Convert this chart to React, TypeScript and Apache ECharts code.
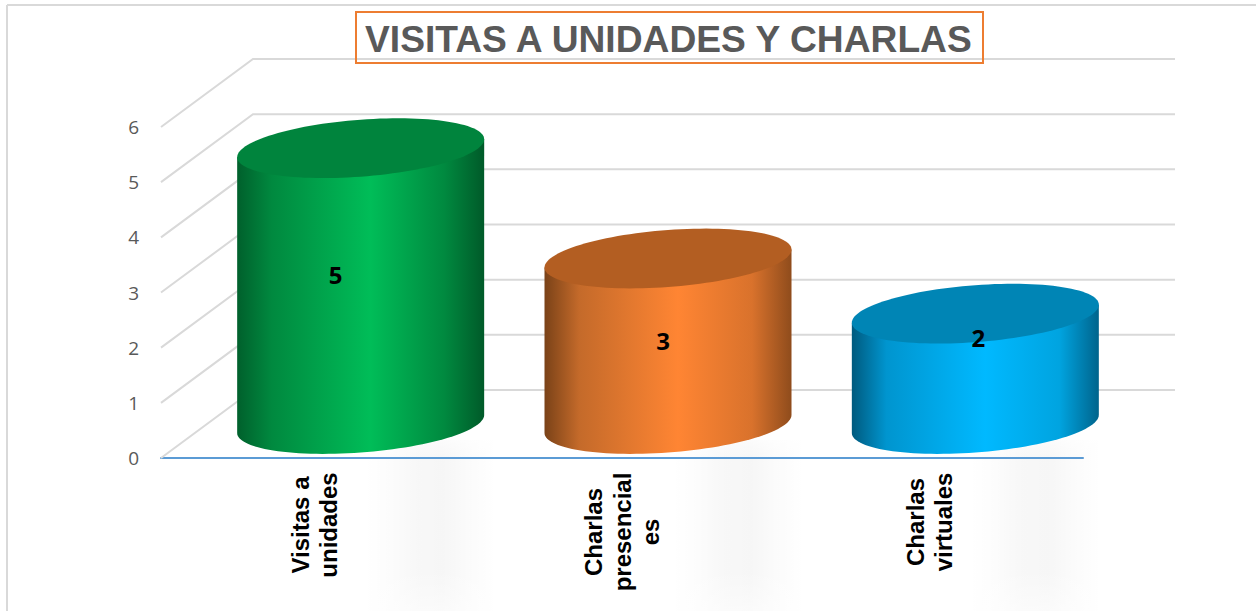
import React, { useEffect, useRef } from "react";
import * as echarts from "echarts";

const categories = ["Visitas a\nunidades", "Charlas\npresencial\nes", "Charlas\nvirtuales"];
const values = [5, 3, 2];
const yTicks = [0, 1, 2, 3, 4, 5, 6];
const titleText = "VISITAS A UNIDADES Y CHARLAS";

const bodyStops = [
  ["#00602c", "#00893f", "#00bd58", "#00893f", "#005a29"],
  ["#7a4218", "#c46a2a", "#ff8533", "#d9722c", "#8f4c1c"],
  ["#005a7e", "#0095cf", "#00b9ff", "#00a4e0", "#00648c"],
];
const topColors = ["#00843d", "#b35e22", "#0085b5"];
const labelNudge = [-25, -5, 3];
const labelY = [274, 340, 337];
const categoryPadding = [[0, 0, 0, 0], [0, 14, 0, 0], [0, 0, 0, 6]];

const DEPTH_X = 92;
const DEPTH_Y = -68;
const RX = 123.5;
const RY = 28.5;
const SKEW = 9;

function ellipsePoints(cx: number, cy: number, from: number, to: number, n = 60) {
  const pts: number[][] = [];
  for (let i = 0; i <= n; i++) {
    const t = from + ((to - from) * i) / n;
    pts.push([cx + RX * Math.cos(t), cy + RY * Math.sin(t) - SKEW * Math.cos(t)]);
  }
  return pts;
}

export default function App() {
  const ref = useRef<HTMLDivElement>(null);
  useEffect(() => {
    const chart = echarts.init(ref.current!, undefined, { renderer: "svg" });
    const band = (x: number) => ({
      type: "rect",
      z: -2,
      silent: true,
      shape: { x: x - 66, y: 440, width: 132, height: 171 },
      style: {
        fill: {
          type: "linear", x: 0, y: 0, x2: 1, y2: 0,
          colorStops: [
            { offset: 0, color: "rgba(0,0,0,0)" },
            { offset: 0.2, color: "rgba(0,0,0,0.012)" },
            { offset: 0.4, color: "rgba(0,0,0,0.03)" },
            { offset: 0.6, color: "rgba(0,0,0,0.035)" },
            { offset: 0.8, color: "rgba(0,0,0,0.015)" },
            { offset: 1, color: "rgba(0,0,0,0)" },
          ],
        },
      },
    });
    const fade = (y: number, h: number, fromOpaqueAtTop: boolean) => ({
      type: "rect",
      z: -1,
      silent: true,
      shape: { x: 300, y, width: 900, height: h },
      style: {
        fill: {
          type: "linear", x: 0, y: 0, x2: 0, y2: 1,
          colorStops: [
            { offset: 0, color: fromOpaqueAtTop ? "rgba(255,255,255,0.6)" : "rgba(255,255,255,0)" },
            { offset: 1, color: fromOpaqueAtTop ? "rgba(255,255,255,0)" : "rgba(255,255,255,0.5)" },
          ],
        },
      },
    });
    chart.setOption({
      animation: false,
      backgroundColor: "#ffffff",
      title: {
        text: titleText,
        left: 356,
        top: 12,
        padding: [8, 7, 6, 9],
        borderColor: "#ed7d31",
        borderWidth: 2,
        textStyle: {
          fontFamily: "Liberation Sans",
          fontWeight: "bold",
          fontSize: 37.2,
          lineHeight: 37,
          color: "#595959",
        },
        z: 10,
      },
      graphic: [
        band(430),
        band(738),
        band(1035),
        fade(440, 20, true),
        fade(570, 41, false),
        { type: "line", z: 0, shape: { x1: 7, y1: 5, x2: 1256, y2: 5 }, style: { stroke: "#d9d9d9", lineWidth: 2 } },
        { type: "line", z: 0, shape: { x1: 7, y1: 5, x2: 7, y2: 611 }, style: { stroke: "#d9d9d9", lineWidth: 2 } },
      ],
      grid: { left: 161, width: 922, top: 127, height: 331, containLabel: false, outerBoundsMode: "none" },
      xAxis: {
        type: "category",
        data: categories.map((c, i) => ({
          value: c,
          textStyle: { padding: categoryPadding[i], align: "center", verticalAlign: "middle" },
        })),
        axisLine: { lineStyle: { color: "#5b9bd5", width: 2 } },
        axisTick: { show: false },
        axisLabel: {
          interval: 0,
          rotate: 90,
          margin: 67,
          align: "center",
          verticalAlign: "middle",
          color: "#000000",
          fontFamily: "Liberation Sans",
          fontWeight: "bold",
          fontSize: 24,
          lineHeight: 28.5,
        },
      },
      yAxis: {
        type: "value",
        min: 0,
        max: 6,
        interval: 1,
        axisLine: { show: false },
        axisTick: { show: false },
        splitLine: { show: false },
        axisLabel: {
          margin: 22,
          color: "#595959",
          fontFamily: "Open Sans",
          fontSize: 19,
          formatter: (v: number) => String(v),
        },
      },
      series: [
        {
          type: "custom",
          z: 1,
          silent: true,
          data: yTicks.map((v) => [0, v]),
          encode: { x: 0, y: 1 },
          renderItem: (_p: any, api: any) => {
            const c = api.coord([0, api.value(1)]);
            const band = api.size([1, 0])[0];
            const x0 = c[0] - band / 2;
            const bx = x0 + DEPTH_X;
            const by = c[1] + DEPTH_Y;
            return {
              type: "polyline",
              shape: { points: [[x0, c[1]], [bx, by], [x0 + band * categories.length + DEPTH_X, by]] },
              style: { stroke: "#d9d9d9", lineWidth: 2, fill: "none" },
            };
          },
        },
        {
          type: "custom",
          z: 3,
          silent: true,
          data: values.map((v, i) => [i, v]),
          encode: { x: 0, y: 1 },
          renderItem: (p: any, api: any) => {
            const i = p.dataIndex;
            const val = api.value(1);
            const top = api.coord([i, val]);
            const base = api.coord([i, 0]);
            const cx = top[0] + DEPTH_X / 2;
            const cyTop = top[1] + DEPTH_Y / 2;
            const cyBase = base[1] + DEPTH_Y / 2;
            const lower = ellipsePoints(cx, cyBase, Math.PI, 0);
            const body = [[cx - RX, cyTop + SKEW], ...lower, [cx + RX, cyTop - SKEW]];
            const s = bodyStops[i];
            return {
              type: "group",
              children: [
                {
                  type: "polygon",
                  shape: { points: body },
                  style: {
                    fill: {
                      type: "linear", x: 0, y: 0, x2: 1, y2: 0,
                      colorStops: [
                        { offset: 0, color: s[0] },
                        { offset: 0.14, color: s[1] },
                        { offset: 0.54, color: s[2] },
                        { offset: 0.84, color: s[3] },
                        { offset: 1, color: s[4] },
                      ],
                    },
                  },
                },
                {
                  type: "polygon",
                  shape: { points: ellipsePoints(cx, cyTop, 0, Math.PI * 2, 120) },
                  style: { fill: topColors[i] },
                },
                {
                  type: "text",
                  style: {
                    text: String(val),
                    x: cx + labelNudge[i],
                    y: labelY[i],
                    align: "center",
                    verticalAlign: "middle",
                    fill: "#000000",
                    font: 'bold 24px "Open Sans"',
                  },
                },
              ],
            };
          },
        },
      ],
    });
    return () => chart.dispose();
  }, []);
  return <div ref={ref} style={{ position: "fixed", left: 0, top: 0, width: 1256, height: 611 }} />;
}
